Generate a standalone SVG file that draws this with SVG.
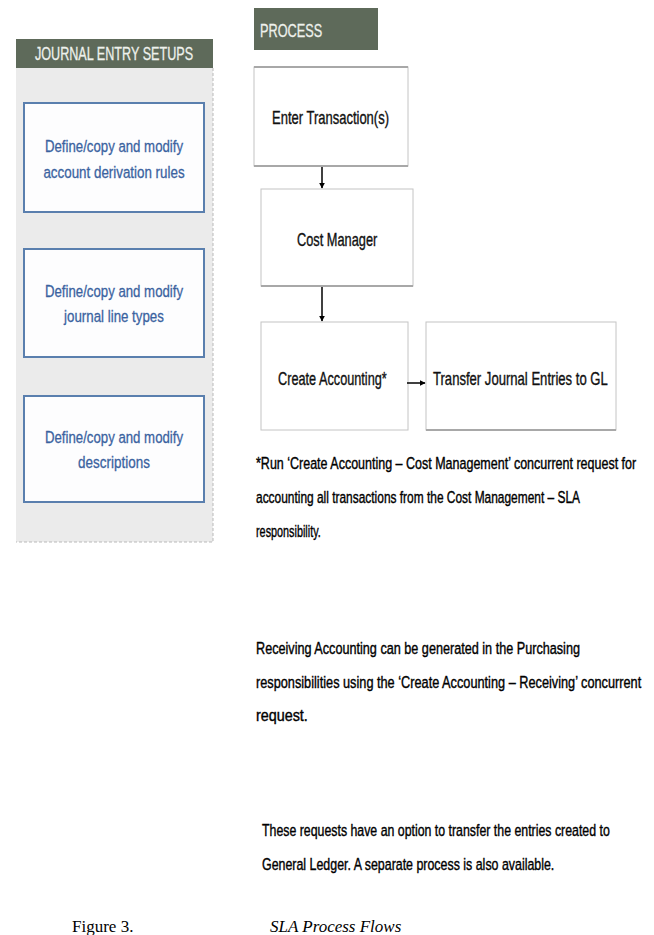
<svg xmlns="http://www.w3.org/2000/svg" width="654" height="935" viewBox="0 0 654 935">
  <defs>
    <style>
      .hdr { fill: #5e6a5a; }
      .hdr-text { font-family: "Liberation Sans", Arial, sans-serif; font-size: 19px; fill: #eef1ec; stroke: #eef1ec; stroke-width: 0.3; }
      .setup { fill: #fdfdfe; stroke: #5a7fae; stroke-width: 2; }
      .setup-text { font-family: "Liberation Sans", Arial, sans-serif; font-size: 17px; fill: #3a62a0; stroke: #3a62a0; stroke-width: 0.3; text-anchor: middle; }
      .step { fill: #ffffff; stroke: #c4c4c4; stroke-width: 1; }
      .step-edge { stroke: #a8a8a8; stroke-width: 2; }
      .step-text { font-family: "Liberation Sans", Arial, sans-serif; font-size: 17.5px; fill: #111111; stroke: #111111; stroke-width: 0.35; }
      .note { font-family: "Liberation Sans", Arial, sans-serif; font-size: 17px; fill: #000000; stroke: #000000; stroke-width: 0.4; }
      .caption { font-family: "Liberation Serif", "Times New Roman", serif; font-size: 17px; fill: #000000; }
      .link { stroke: #000000; stroke-width: 1.5; fill: none; }
    </style>
    <marker id="arrow" viewBox="0 0 10 10" refX="9" refY="5" markerWidth="4" markerHeight="4" orient="auto" markerUnits="strokeWidth">
      <path d="M0,0 L10,5 L0,10 z" fill="#000000"/>
    </marker>
  </defs>

  <rect width="654" height="935" fill="#ffffff"/>

  <!-- Journal entry setups panel -->
  <g id="setups-panel">
    <rect x="16" y="68" width="197" height="474" fill="#ebebeb"/>
    <path d="M213,68 V542 H16" fill="none" stroke="#b9b9b9" stroke-width="1" stroke-dasharray="3,2"/>
    <rect class="hdr" x="16" y="39" width="197" height="29"/>
    <text class="hdr-text" transform="translate(114,60) scale(0.7,1)" text-anchor="middle" textLength="226" lengthAdjust="spacingAndGlyphs">JOURNAL ENTRY SETUPS</text>
  </g>

  <g id="setup-rules">
    <rect class="setup" x="24" y="103" width="180" height="109"/>
    <text class="setup-text" transform="translate(114,152) scale(0.78,1)" textLength="177" lengthAdjust="spacingAndGlyphs">Define/copy and modify</text>
    <text class="setup-text" transform="translate(114,178) scale(0.78,1)" textLength="181" lengthAdjust="spacingAndGlyphs">account derivation rules</text>
  </g>

  <g id="setup-line-types">
    <rect class="setup" x="24" y="249" width="180" height="108"/>
    <text class="setup-text" transform="translate(114,297) scale(0.78,1)" textLength="177" lengthAdjust="spacingAndGlyphs">Define/copy and modify</text>
    <text class="setup-text" transform="translate(114,322) scale(0.78,1)" textLength="128" lengthAdjust="spacingAndGlyphs">journal line types</text>
  </g>

  <g id="setup-descriptions">
    <rect class="setup" x="24" y="396" width="180" height="106"/>
    <text class="setup-text" transform="translate(114,443) scale(0.78,1)" textLength="177" lengthAdjust="spacingAndGlyphs">Define/copy and modify</text>
    <text class="setup-text" transform="translate(114,468) scale(0.78,1)" textLength="92" lengthAdjust="spacingAndGlyphs">descriptions</text>
  </g>

  <!-- Process column -->
  <g id="process-header">
    <rect class="hdr" x="254" y="8" width="124" height="42"/>
    <text class="hdr-text" transform="translate(260,37) scale(0.75,1)" font-size="18" textLength="83" lengthAdjust="spacingAndGlyphs">PROCESS</text>
  </g>

  <g id="enter-transactions">
    <rect class="step" x="254" y="67" width="154" height="99"/>
    <line class="step-edge" x1="254" y1="67" x2="408" y2="67"/>
    <line class="step-edge" x1="254" y1="166" x2="408" y2="166"/>
    <text class="step-text" transform="translate(272,124) scale(0.75,1)" textLength="156" lengthAdjust="spacingAndGlyphs">Enter Transaction(s)</text>
  </g>

  <g id="cost-manager">
    <rect class="step" x="261" y="189" width="152" height="97"/>
    <line class="step-edge" x1="261" y1="286" x2="413" y2="286"/>
    <text class="step-text" transform="translate(297,246) scale(0.75,1)" textLength="107" lengthAdjust="spacingAndGlyphs">Cost Manager</text>
  </g>

  <g id="create-accounting">
    <rect class="step" x="261" y="322" width="147" height="108"/>
    <text class="step-text" transform="translate(278,385) scale(0.75,1)" textLength="145" lengthAdjust="spacingAndGlyphs">Create Accounting*</text>
  </g>

  <g id="transfer-to-gl">
    <rect class="step" x="426" y="322" width="190" height="108"/>
    <line class="step-edge" x1="426" y1="430" x2="616" y2="430"/>
    <text class="step-text" transform="translate(433,385) scale(0.75,1)" textLength="233" lengthAdjust="spacingAndGlyphs">Transfer Journal Entries to GL</text>
  </g>

  <!-- Connectors -->
  <g id="connectors">
    <line class="link" x1="322" y1="167" x2="322" y2="188" marker-end="url(#arrow)"/>
    <line class="link" x1="322" y1="287" x2="322" y2="321" marker-end="url(#arrow)"/>
    <line class="link" x1="407" y1="383" x2="425" y2="383" stroke-width="3" marker-end="url(#arrow)"/>
  </g>

  <!-- Notes -->
  <g id="notes">
    <text class="note" transform="translate(256,469) scale(0.72,1)" textLength="528" lengthAdjust="spacingAndGlyphs">*Run ‘Create Accounting – Cost Management’ concurrent request for</text>
    <text class="note" transform="translate(256,503) scale(0.72,1)" textLength="450" lengthAdjust="spacingAndGlyphs">accounting all transactions from the Cost Management – SLA</text>
    <text class="note" transform="translate(256,537) scale(0.72,1)" textLength="90" lengthAdjust="spacingAndGlyphs">responsibility.</text>

    <text class="note" transform="translate(256,654) scale(0.72,1)" textLength="450" lengthAdjust="spacingAndGlyphs">Receiving Accounting can be generated in the Purchasing</text>
    <text class="note" transform="translate(256,688) scale(0.72,1)" textLength="535" lengthAdjust="spacingAndGlyphs">responsibilities using the ‘Create Accounting – Receiving’ concurrent</text>
    <text class="note" transform="translate(256,721) scale(0.72,1)" textLength="72" lengthAdjust="spacingAndGlyphs">request.</text>

    <text class="note" transform="translate(262,836) scale(0.72,1)" textLength="483" lengthAdjust="spacingAndGlyphs">These requests have an option to transfer the entries created to</text>
    <text class="note" transform="translate(262,870) scale(0.72,1)" textLength="406" lengthAdjust="spacingAndGlyphs">General Ledger. A separate process is also available.</text>
  </g>

  <g id="caption">
    <text class="caption" x="72" y="932">Figure 3.</text>
    <text class="caption" x="270" y="932" font-style="italic">SLA Process Flows</text>
  </g>
</svg>
